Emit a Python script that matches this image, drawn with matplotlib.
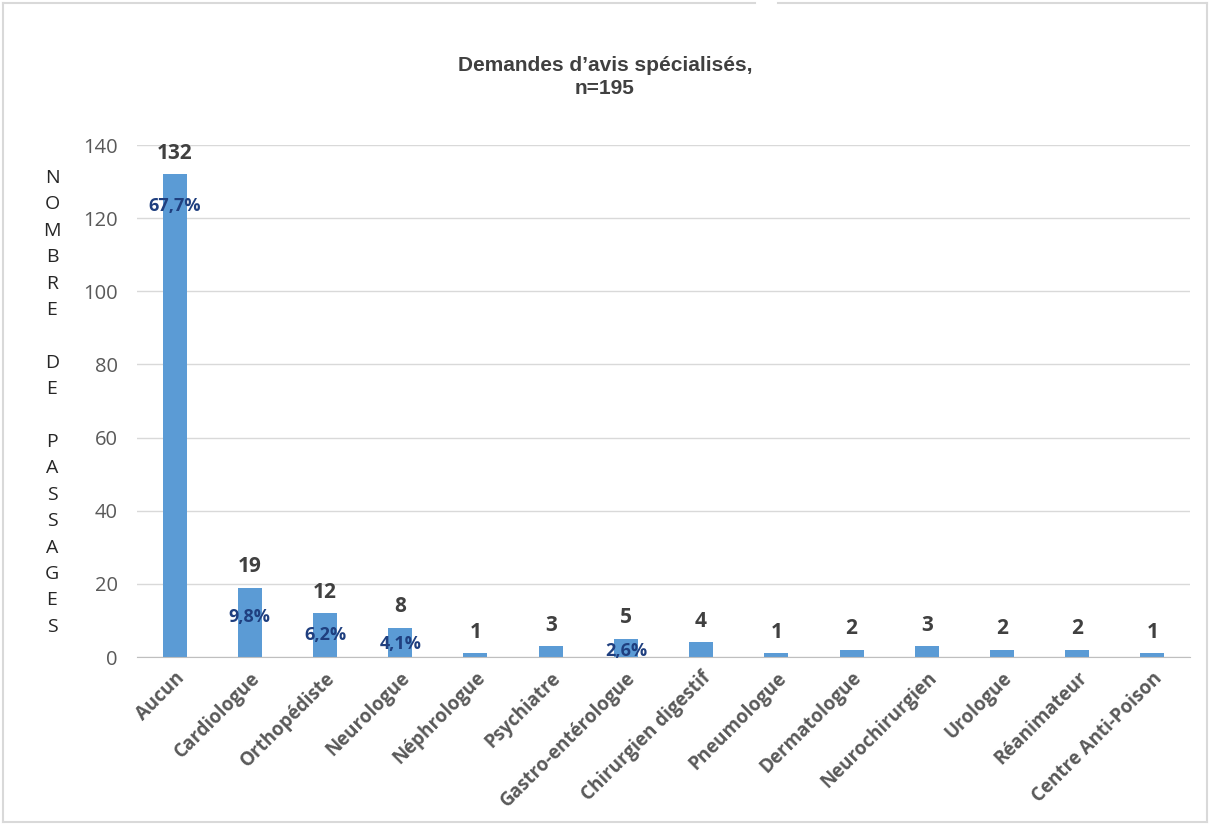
import numpy as np
import matplotlib
matplotlib.use('Agg')
import matplotlib.pyplot as plt
from matplotlib.lines import Line2D

categories = ["Aucun", "Cardiologue", "Orthopédiste", "Neurologue", "Néphrologue",
              "Psychiatre", "Gastro-entérologue", "Chirurgien digestif", "Pneumologue",
              "Dermatologue", "Neurochirurgien", "Urologue", "Réanimateur",
              "Centre Anti-Poison"]
counts = [132, 19, 12, 8, 1, 3, 5, 4, 1, 2, 3, 2, 2, 1]
pct_cats = ["Aucun", "Cardiologue", "Orthopédiste", "Neurologue", "Gastro-entérologue"]
pct_labels = ["67,7%", "9,8%", "6,2%", "4,1%", "2,6%"]
ylabel_text = "NOMBRE DE PASSAGES"

BAR = '#5B9BD5'
DARK = '#404040'
TICK = '#595959'
PCT = '#1F3F7F'
FONT = ['Open Sans', 'DejaVu Sans']

fig = plt.figure(figsize=(12.1, 8.25), dpi=100)
ax = fig.add_axes([0.1132, 0.2036, 0.8703, 0.6206])

x = np.arange(len(categories))
bars = ax.bar(x, counts, width=0.32, color=BAR, zorder=2)
ax.set_xlim(-0.5, len(categories) - 0.5)
ax.set_ylim(0, 140)
ax.set_yticks(range(0, 141, 20))
ax.yaxis.grid(True, color='#D9D9D9', lw=1, zorder=0)
ax.set_axisbelow(True)
for s in ['top', 'right', 'left']:
    ax.spines[s].set_visible(False)
ax.spines['bottom'].set_color('#BFBFBF')
ax.tick_params(axis='both', length=0)
ax.tick_params(axis='y', pad=14, labelsize=14.5, labelcolor=TICK)
for lab in ax.get_yticklabels():
    lab.set_family(FONT)
ax.set_xticks(x)
ax.set_xticklabels(categories, rotation=45, ha='right', rotation_mode='anchor',
                   fontsize=13.5, color=TICK, family=FONT, fontweight='bold')
ax.tick_params(axis='x', pad=8)

# value labels
for b, v in zip(bars, counts):
    ax.annotate(str(v), (b.get_x() + b.get_width() / 2, v), xytext=(0, 15),
                textcoords='offset points', ha='center', va='center',
                fontsize=15, fontweight='bold', color=DARK, family=FONT)

# percentage labels (manually placed in the original)
pct_offsets = [-23, -21, -16, -12, -9]
for name, lab, off in zip(pct_cats, pct_labels, pct_offsets):
    i = categories.index(name)
    ax.annotate(lab, (i, counts[i]), xytext=(0, off),
                textcoords='offset points', ha='center', va='center',
                fontsize=13, fontweight='bold', color=PCT, family=FONT)

# title
fig.text(0.5, 0.921, "Demandes d’avis spécialisés,", ha='center', va='center',
         fontsize=15, fontweight='bold', color=DARK, family='Liberation Sans')
fig.text(0.5, 0.893, "n=195", ha='center', va='center',
         fontsize=15, fontweight='bold', color=DARK, family='Liberation Sans')

# vertical stacked y label
for k, ch in enumerate(ylabel_text):
    if ch != ' ':
        fig.text(52 / 1210, 1 - (178 + 26.4 * k) / 825, ch, ha='center', va='center',
                 fontsize=14, color='#262626', family=FONT)

# outer frame
fc = '#D9D9D9'
W, H = 1210, 825
segs = [((3, 3), (3, 822)), ((1207, 3), (1207, 822)), ((3, 822), (1207, 822)),
        ((3, 3), (755, 3)), ((778, 3), (1207, 3))]
for (x0, y0), (x1, y1) in segs:
    fig.add_artist(Line2D([x0 / W, x1 / W], [1 - y0 / H, 1 - y1 / H],
                          color=fc, lw=1.5, transform=fig.transFigure))

fig.savefig('out.png', dpi=100)
